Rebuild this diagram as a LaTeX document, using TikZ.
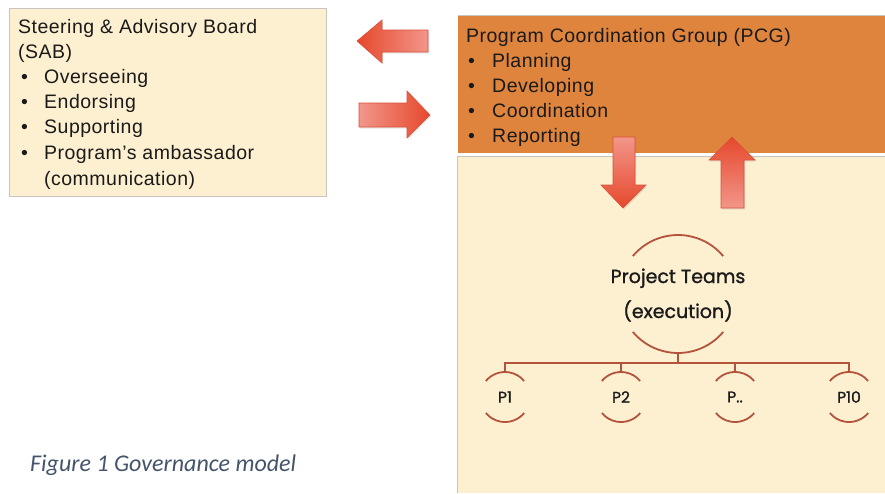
\documentclass[tikz,border=0pt]{standalone}
\usepackage{fontspec}
\setmainfont{Liberation Sans}[LetterSpace=2.5]
\newfontfamily\geofont{Poppins}[FakeBold=1.2]
\newfontfamily\capfont{Carlito}
\usetikzlibrary{shadows}

\definecolor{paleyellow}{HTML}{FDF0D1}
\definecolor{pcgorange}{HTML}{DF843D}
\definecolor{treeline}{HTML}{B4533C}
\definecolor{arrowdark}{HTML}{E6482C}
\definecolor{arrowlight}{HTML}{F2968A}
\definecolor{arrowedge}{HTML}{D8503A}
\definecolor{captioncol}{HTML}{44546A}
\definecolor{boxedge}{HTML}{C9C4BE}
\definecolor{inktext}{HTML}{1A1A1A}

\tikzset{
  boxtext/.style={anchor=base west, inner sep=0pt, text=inktext,
    font=\fontsize{19.5}{22}\selectfont},
  bulletmark/.style={boxtext},
  blockarrow/.style={draw=arrowedge, line width=0.6pt, line join=miter,
    drop shadow={opacity=0.18, shadow xshift=1pt, shadow yshift=-1.5pt}},
  ring/.style={circle, inner sep=0pt, draw=none},
  treepen/.style={draw=treeline, line width=1.8pt},
  teamtext/.style={anchor=base, inner sep=0pt, text=inktext,
    font=\geofont\fontsize{19}{24}\selectfont},
  subtext/.style={inner sep=0pt, text=inktext,
    font=\geofont\fontsize{15.5}{18}\selectfont},
}

\begin{document}
\begin{tikzpicture}[x=1pt, y=-1pt]
\useasboundingbox (0,0) rectangle (885,493);

% Steering & Advisory Board box
\node (sab) [draw=boxedge, line width=0.6pt, fill=paleyellow, inner sep=0pt,
  minimum width=317pt, minimum height=188pt] at (167.5,102) {};
\node (sabtitle) [boxtext] at (18,33) {Steering \& Advisory Board};
\node (sababbr)  [boxtext] at (18,58) {(SAB)};
\foreach \y/\txt [count=\i] in {83/Overseeing, 108/Endorsing, 133/Supporting,
                                159/Program’s ambassador} {
  \node (sabb\i) [bulletmark] at (21,\y) {•};
  \node (sabi\i) [boxtext] at (44,\y) {\txt};
}
\node (sabcont) [boxtext] at (44,185) {(communication)};

% Program Coordination Group band
\node (pcg) [fill=pcgorange, inner sep=0pt, minimum width=427pt,
  minimum height=137pt] at (671.5,84.5) {};
\draw [boxedge, line width=0.8pt] (pcg.north west) -- (pcg.north east);
\node (pcgtitle) [boxtext] at (466,42) {Program Coordination Group (PCG)};
\foreach \y/\txt [count=\i] in {67/Planning, 92/Developing, 117/Coordination,
                                142/Reporting} {
  \node (pcgb\i) [bulletmark] at (468,\y) {•};
  \node (pcgi\i) [boxtext] at (492,\y) {\txt};
}

% Project teams panel
\node (teams) [fill=paleyellow, inner sep=0pt, minimum width=427pt,
  minimum height=336pt] at (671.5,325) {};
\draw [boxedge, line width=0.8pt]
  (teams.south west) -- (teams.north west) -- (teams.north east);

% Block arrows between the groups
\shade [blockarrow, left color=arrowdark, right color=arrowlight]
  (357,41) -- (382,20) -- (382,30) -- (428,30) -- (428,52) -- (382,52)
  -- (382,63) -- cycle;
\shade [blockarrow, left color=arrowlight, right color=arrowdark]
  (359,103) -- (407,103) -- (407,91) -- (430,115) -- (407,138) -- (407,127)
  -- (359,127) -- cycle;
\shade [blockarrow, top color=arrowlight, bottom color=arrowdark]
  (613,137) -- (635,137) -- (635,185) -- (646,185) -- (623,208) -- (601,185)
  -- (613,185) -- cycle;
\shade [blockarrow, top color=arrowdark, bottom color=arrowlight]
  (732,137) -- (755,160) -- (744,160) -- (744,208) -- (721,208) -- (721,160)
  -- (709,160) -- cycle;

% Project teams hierarchy
\node (pt) [ring, minimum size=118pt] at (678,294) {};
\draw [treepen] ([shift={(220:59)}]pt.center) arc[start angle=220, end angle=320, radius=59];
\draw [treepen] ([shift={(40:59)}]pt.center) arc[start angle=40, end angle=140, radius=59];
\node (ptl1) [teamtext] at (678,283) {Project Teams};
\node (ptl2) [teamtext] at (678,318) {(execution)};

\foreach \name/\x/\lbl in {p1/505/P1, p2/621/P2, p3/735/P.., p4/849/P10} {
  \node (\name) [ring, minimum size=50pt] at (\x,397) {};
  \draw [treepen] ([shift={(220:25)}]\name.center) arc[start angle=220, end angle=320, radius=25];
  \draw [treepen] ([shift={(40:25)}]\name.center) arc[start angle=40, end angle=140, radius=25];
  \node (\name t) [subtext] at (\x,397) {\lbl};
}

\coordinate (bus) at (678,363);
\draw [treepen] (pt.south) -- (bus);
\draw [treepen, line join=miter] (p1.north) |- (bus) -| (p4.north);
\draw [treepen] (p2.north) -- (p2.north |- bus);
\draw [treepen] (p3.north) -- (p3.north |- bus);

% Caption
\node (caption) [anchor=base west, inner sep=0pt, text=captioncol,
  font=\capfont\itshape\fontsize{24}{28}\selectfont] at (30,471)
  {Figure 1 Governance model};
\end{tikzpicture}
\end{document}
